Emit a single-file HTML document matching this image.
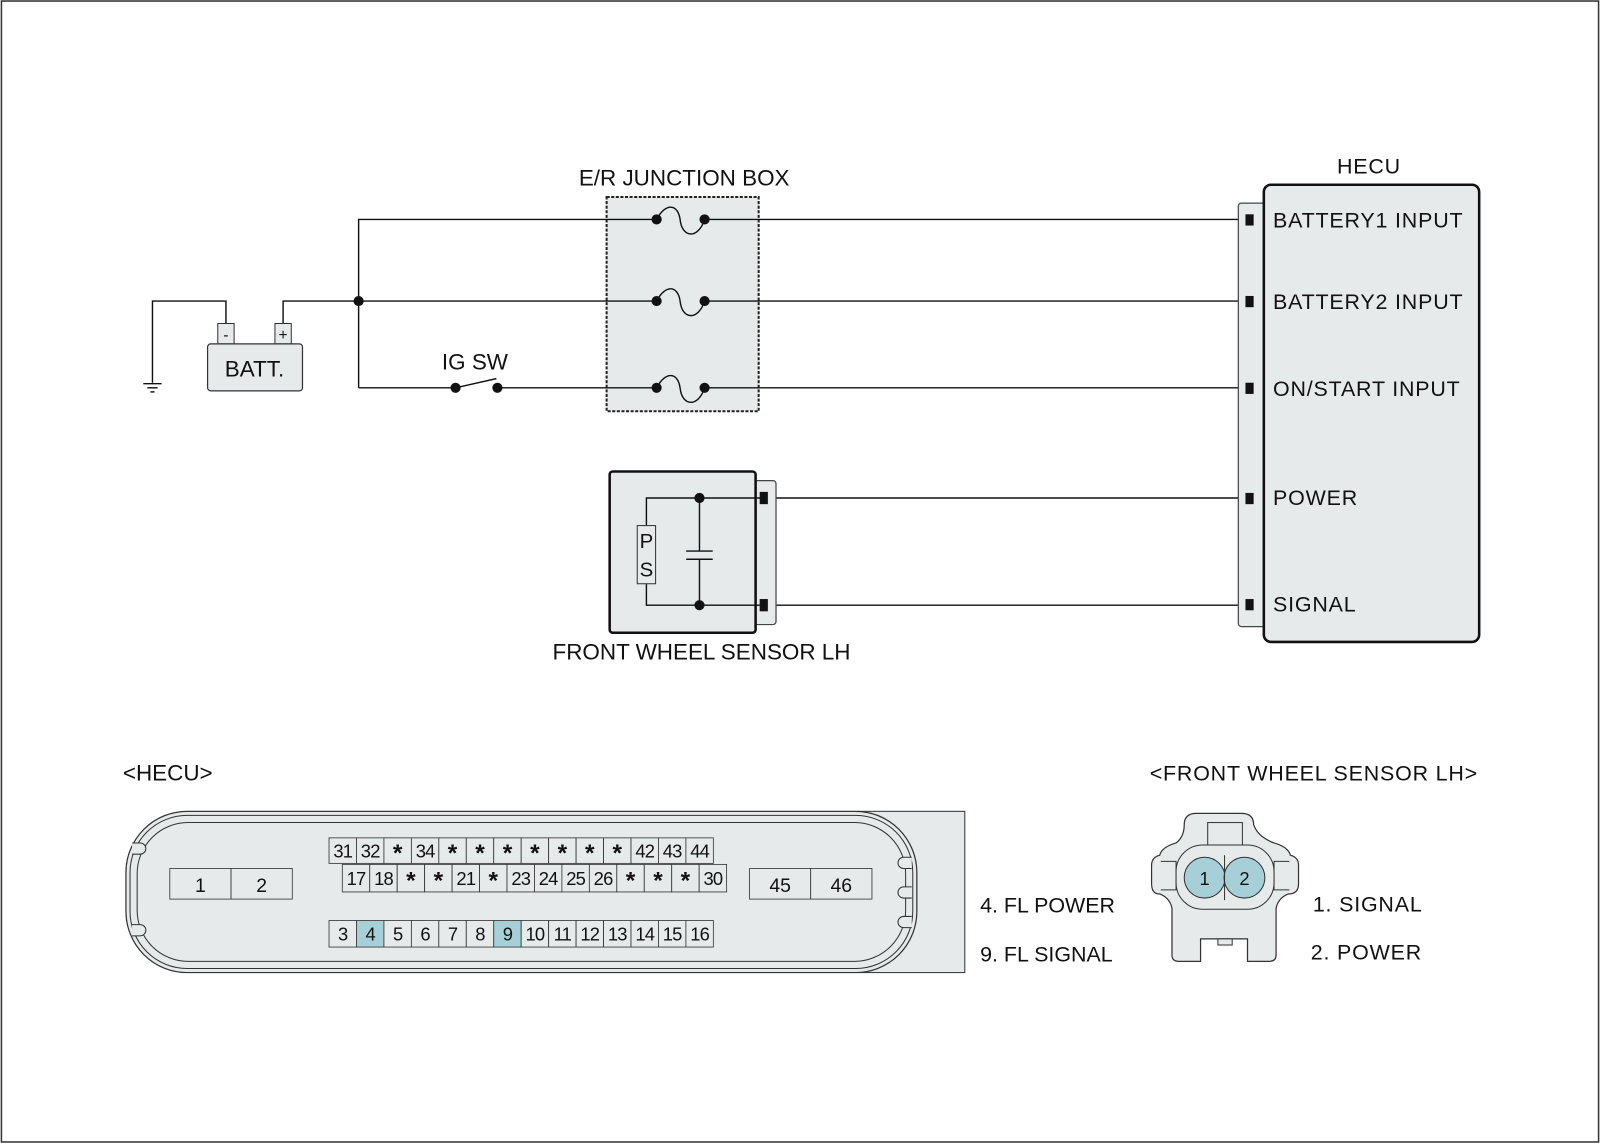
<!DOCTYPE html>
<html><head><meta charset="utf-8">
<style>
html,body{margin:0;padding:0;background:#fff;}
svg{display:block;}
text{font-family:"Liberation Sans",Arial,sans-serif;fill:#111;}
</style></head>
<body>
<svg width="1600" height="1143" viewBox="0 0 1567 1120" xmlns="http://www.w3.org/2000/svg">
<rect x="1" y="1" width="1565" height="1118" fill="#fff" stroke="#333" stroke-width="1.5"/>

<!-- Junction box -->
<text x="670" y="182" font-size="22" text-anchor="middle">E/R JUNCTION BOX</text>
<rect x="594" y="193" width="149" height="210" fill="#e6eaea" stroke="#222" stroke-width="2" stroke-dasharray="3,1.5"/>

<!-- wires -->
<g stroke="#111" stroke-width="1.4" fill="none">
<polyline points="351,380 351,215 643,215"/>
<line x1="690" y1="215" x2="1222" y2="215"/>
<polyline points="277,317 277,295 643,295"/>
<line x1="690" y1="295" x2="1222" y2="295"/>
<line x1="351" y1="380" x2="446" y2="380"/>
<line x1="487" y1="380" x2="643" y2="380"/>
<line x1="690" y1="380" x2="1222" y2="380"/>
<line x1="446" y1="380" x2="486" y2="371"/>
<polyline points="221,317 221,295 149,295 149,375"/>
<line x1="140" y1="376" x2="158" y2="376"/>
<line x1="144" y1="380" x2="154" y2="380"/>
<line x1="147" y1="384" x2="151" y2="384"/>
<!-- fuses -->
<path d="M643,215 C652,198 664,200 666,215 C668,234 684,234 690,215"/>
<path d="M643,295 C652,278 664,280 666,295 C668,314 684,314 690,295"/>
<path d="M643,380 C652,363 664,365 666,380 C668,399 684,399 690,380"/>
<line x1="750" y1="488" x2="1222" y2="488"/>
<line x1="750" y1="593" x2="1222" y2="593"/>
</g>
<g fill="#111">
<circle cx="351" cy="295" r="5"/>
<circle cx="643" cy="215" r="5"/><circle cx="690" cy="215" r="5"/>
<circle cx="643" cy="295" r="5"/><circle cx="690" cy="295" r="5"/>
<circle cx="643" cy="380" r="5"/><circle cx="690" cy="380" r="5"/>
<circle cx="446" cy="380" r="5"/><circle cx="487" cy="380" r="5"/>
</g>
<text x="465" y="362" font-size="22" text-anchor="middle">IG SW</text>

<!-- Battery -->
<rect x="213" y="317" width="16" height="20" fill="#e6eaea" stroke="#333" stroke-width="1"/>
<rect x="269" y="317" width="16" height="20" fill="#e6eaea" stroke="#333" stroke-width="1"/>
<text x="221" y="333" font-size="15" text-anchor="middle">-</text>
<text x="277" y="333" font-size="15" text-anchor="middle">+</text>
<rect x="203" y="337" width="93" height="46" rx="3" fill="#e6eaea" stroke="#333" stroke-width="1.2"/>
<text x="249" y="369" font-size="22" text-anchor="middle">BATT.</text>

<!-- HECU -->
<text x="1341" y="170" font-size="21" text-anchor="middle" letter-spacing="0.8">HECU</text>
<rect x="1213" y="199" width="27" height="415" rx="3" fill="#e6eaea" stroke="#444" stroke-width="1.2"/>
<rect x="1238" y="181" width="211" height="448" rx="7" fill="#e6eaea" stroke="#111" stroke-width="2.5"/>
<g fill="#111">
<rect x="1220" y="210" width="8" height="11"/>
<rect x="1220" y="290" width="8" height="11"/>
<rect x="1220" y="375" width="8" height="11"/>
<rect x="1220" y="483" width="8" height="11"/>
<rect x="1220" y="587" width="8" height="11"/>
</g>
<g font-size="21" letter-spacing="0.8">
<text x="1247" y="223">BATTERY1 INPUT</text>
<text x="1247" y="303">BATTERY2 INPUT</text>
<text x="1247" y="388">ON/START INPUT</text>
<text x="1247" y="495">POWER</text>
<text x="1247" y="599">SIGNAL</text>
</g>

<!-- Sensor -->
<rect x="738" y="471" width="22" height="141" rx="3" fill="#e6eaea" stroke="#444" stroke-width="1.2"/>
<rect x="597" y="462" width="143" height="158" rx="3" fill="#e6eaea" stroke="#111" stroke-width="2.5"/>
<g stroke="#111" stroke-width="1.4" fill="none">
<polyline points="633,515 633,488 745,488"/>
<polyline points="633,572 633,593 745,593"/>
<line x1="685" y1="488" x2="685" y2="540"/>
<line x1="685" y1="548" x2="685" y2="593"/>
<line x1="672" y1="540" x2="698" y2="540"/>
<line x1="672" y1="548" x2="698" y2="548"/>
</g>
<rect x="624" y="515" width="18" height="57" fill="#e6eaea" stroke="#333" stroke-width="1"/>
<text x="633" y="537" font-size="20" text-anchor="middle">P</text>
<text x="633" y="565" font-size="20" text-anchor="middle">S</text>
<circle cx="685" cy="488" r="5" fill="#111"/>
<circle cx="685" cy="593" r="5" fill="#111"/>
<rect x="744" y="482" width="8" height="12" fill="#111"/>
<rect x="744" y="587" width="8" height="12" fill="#111"/>
<text x="687" y="646" font-size="22" text-anchor="middle">FRONT WHEEL SENSOR LH</text>

<!-- HECU connector -->
<text x="120" y="765" font-size="22">&lt;HECU&gt;</text>
<rect x="840" y="795" width="105" height="158" fill="#e6eaea" stroke="#333" stroke-width="1"/>
<rect x="123" y="795" width="775" height="158" rx="60" fill="#e6eaea" stroke="#333" stroke-width="1.2"/>
<rect x="127" y="799" width="767" height="150" rx="56" fill="none" stroke="#333" stroke-width="1"/>
<rect x="134" y="806" width="753" height="136" rx="50" fill="none" stroke="#333" stroke-width="1"/>
<g fill="#e6eaea" stroke="#333" stroke-width="1">
<path d="M129,826 h8 a5,5 0 0 1 0,11 h-8"/>
<path d="M129,906 h8 a5,5 0 0 1 0,11 h-8"/>
<path d="M893,840 h-8 a5,5 0 0 0 0,11 h8"/>
<path d="M893,869 h-8 a5,5 0 0 0 0,11 h8"/>
<path d="M893,898 h-8 a5,5 0 0 0 0,11 h8"/>
</g>
<g stroke="#333" stroke-width="0.8">
<rect x="166" y="851" width="60" height="30" fill="#e6eaea"/><rect x="226" y="851" width="60" height="30" fill="#e6eaea"/>
<rect x="734" y="851" width="60" height="30" fill="#e6eaea"/><rect x="794" y="851" width="60" height="30" fill="#e6eaea"/>
</g>
<g font-size="19" text-anchor="middle">
<text x="196" y="874">1</text><text x="256" y="874">2</text>
<text x="764" y="874">45</text><text x="824" y="874">46</text>
</g>
<g id="cells" font-size="18" text-anchor="middle"></g>
<script>
(function(){
var g=document.getElementById('cells'),ns='http://www.w3.org/2000/svg';
var rows=[[322,821,25,['31','32','*','34','*','*','*','*','*','*','*','42','43','44']],
[335,847,27,['17','18','*','*','21','*','23','24','25','26','*','*','*','30']],
[322,902,26,['3','4','5','6','7','8','9','10','11','12','13','14','15','16']]];
var w=26.9;
rows.forEach(function(r){
r[3].forEach(function(t,i){
var x=r[0]+i*w;
var rc=document.createElementNS(ns,'rect');
rc.setAttribute('x',x);rc.setAttribute('y',r[1]);rc.setAttribute('width',w);rc.setAttribute('height',r[2]);
rc.setAttribute('fill',(r[1]==902&&(t=='4'||t=='9'))?'#a6cfd8':'#e6eaea');
rc.setAttribute('stroke','#333');rc.setAttribute('stroke-width','0.8');
g.appendChild(rc);
var tx=document.createElementNS(ns,'text');
tx.setAttribute('x',x+w/2);
tx.setAttribute('y',r[1]+r[2]/2+(t=='*'?10:6.5));
if(t=='*'){tx.setAttribute('font-size','24');tx.setAttribute('font-weight','bold');}
else{tx.setAttribute('letter-spacing','-0.8');}
tx.textContent=t;g.appendChild(tx);
});
});
})();
</script>
<text x="960" y="894" font-size="21">4. FL POWER</text>
<text x="960" y="942" font-size="21">9. FL SIGNAL</text>

<!-- Front wheel sensor connector -->
<text x="1287" y="765" font-size="21" text-anchor="middle" letter-spacing="0.8">&lt;FRONT WHEEL SENSOR LH&gt;</text>
<path d="M1160,808 Q1160,797 1172,797 L1216,797 Q1228,797 1228,808 Q1232,820 1248,826 Q1262,830 1264,838 Q1272,840 1272,848 L1272,866 Q1272,876 1262,876 Q1252,880 1250,890 L1250,936 Q1250,942 1243,942 L1222,942 L1222,920 L1176,920 L1176,942 L1155,942 Q1148,942 1148,936 L1148,890 Q1146,880 1136,876 Q1128,876 1128,866 L1128,848 Q1128,840 1136,838 Q1138,830 1152,826 Q1160,820 1160,808 Z" fill="#e6eaea" stroke="#333" stroke-width="1.2"/>
<rect x="1183" y="806" width="34" height="22" fill="#e6eaea" stroke="#333" stroke-width="1"/>
<rect x="1193" y="920" width="14" height="6" fill="#e6eaea" stroke="#333" stroke-width="1"/>
<path d="M1137,844 L1152,844 L1152,872 L1137,872 M1263,844 L1248,844 L1248,872 L1263,872" fill="none" stroke="#333" stroke-width="1"/>
<rect x="1152" y="828" width="96" height="63" rx="26" fill="#e6eaea" stroke="#333" stroke-width="1"/>
<circle cx="1180" cy="860" r="20" fill="#a6cfd8" stroke="#333" stroke-width="1"/>
<circle cx="1219" cy="860" r="20" fill="#a6cfd8" stroke="#333" stroke-width="1"/>
<line x1="1199.5" y1="838" x2="1199.5" y2="882" stroke="#333" stroke-width="1"/>
<text x="1180" y="867" font-size="18" text-anchor="middle">1</text>
<text x="1219" y="867" font-size="18" text-anchor="middle">2</text>
<text x="1286" y="893" font-size="21" letter-spacing="0.8">1. SIGNAL</text>
<text x="1284" y="940" font-size="21" letter-spacing="0.8">2. POWER</text>
</svg>
</body></html>
